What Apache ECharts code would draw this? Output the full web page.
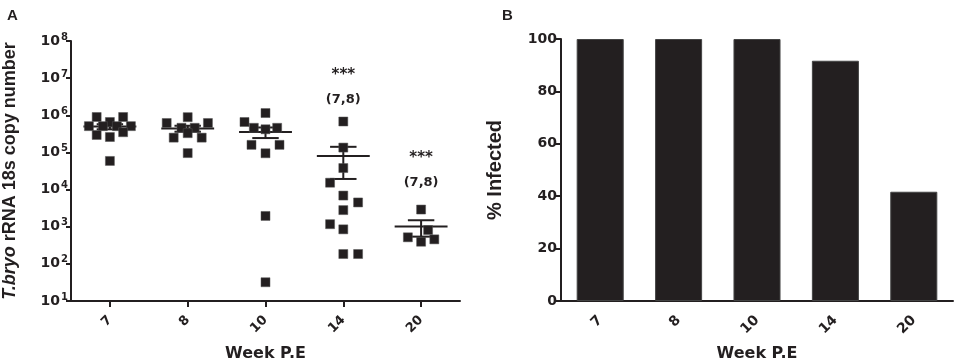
<!DOCTYPE html>
<html>
<head>
<meta charset="utf-8">
<script src="https://cdn.jsdelivr.net/npm/echarts@6/dist/echarts.min.js"></script>
<style>
  html, body { margin: 0; padding: 0; background: #fff; }
  #chart { width: 957px; height: 364px; }
</style>
</head>
<body>
<div id="chart"></div>
<script>
var myChart = echarts.init(document.getElementById('chart'));

// weeks post exposure (categories)
var weeks = ['7', '8', '10', '14', '20'];

// panel A: copy numbers per week
var copies7  = [9.0e5, 9.0e5, 6.6e5, 5.1e5, 5.1e5, 5.1e5, 5.1e5, 2.95e5, 2.6e5, 3.5e5, 5.9e4];
var copies8  = [6.2e5, 8.9e5, 6.2e5, 2.5e5, 2.5e5, 4.6e5, 4.6e5, 3.3e5, 9.6e4];
var copies10 = [1.15e6, 6.6e5, 4.6e5, 4.2e5, 4.6e5, 1.6e5, 1.6e5, 9.5e4, 1950, 32];
var copies14 = [6.8e5, 1.35e5, 3.8e4, 1.53e4, 6.9e3, 4.5e3, 2.8e3, 1170, 850, 184, 184];
var copies20 = [2900, 519, 394, 457, 815];

// horizontal scatter of the points (fraction of a category width)
var jitter7  = [-0.17, 0.17, 0, -0.27, -0.09, 0.09, 0.27, -0.17, 0, 0.17, 0];
var jitter8  = [-0.27, 0, 0.26, -0.18, 0.18, -0.08, 0.09, 0, 0];
var jitter10 = [0, -0.27, -0.15, 0, 0.15, -0.18, 0.18, 0, 0, 0];
var jitter14 = [0, 0, 0, -0.17, 0, 0.19, 0, -0.17, 0, 0, 0.19];
var jitter20 = [0, -0.17, 0, 0.17, 0.09];

// significance notes above weeks 14 and 20
var noteWeeks = [3, 4];
var noteStarsAt = [1.2e7, 7.1e4];
var noteNAt = [2.6e6, 1.5e4];
var noteStars = '***';
var noteN = '(7,8)';

// panel B: % infected
var infected = [100, 100, 100, 91.7, 41.7];

var groups = [copies7, copies8, copies10, copies14, copies20];
var jitters = [jitter7, jitter8, jitter10, jitter14, jitter20];

var points = [];
var stats = [];
groups.forEach(function (vals, i) {
    vals.forEach(function (v, j) {
        points.push([i + jitters[i][j], v]);
    });
    var n = vals.length;
    var mean = vals.reduce(function (a, b) { return a + b; }, 0) / n;
    var ss = vals.reduce(function (a, b) { return a + (b - mean) * (b - mean); }, 0);
    var sem = Math.sqrt(ss / (n - 1)) / Math.sqrt(n);
    stats.push([i, mean, mean - sem, mean + sem]);
});

var notes = noteWeeks.map(function (w, k) {
    return [w, noteStarsAt[k], noteNAt[k]];
});

var ink = '#231f20';
var tickFont = 'DejaVu Sans';

var option = {
    animation: false,
    grid: [
        { left: 71, top: 41, width: 389, height: 260, outerBoundsMode: 'none', containLabel: false },
        { left: 561, top: 39, width: 392, height: 262, outerBoundsMode: 'none', containLabel: false }
    ],
    graphic: [
        { type: 'text', left: 7, top: 8, style: { text: 'A', font: 'bold 15px "Liberation Sans"', fill: ink } },
        { type: 'text', left: 502, top: 8, style: { text: 'B', font: 'bold 15px "Liberation Sans"', fill: ink } }
    ],
    xAxis: [
        {
            type: 'value', gridIndex: 0, min: -0.5, max: 4.5,
            splitLine: { show: false },
            axisLine: { onZero: false, lineStyle: { color: ink, width: 2 } },
            axisTick: { customValues: [0, 1, 2, 3, 4], length: 6, lineStyle: { color: ink, width: 2 } },
            axisLabel: {
                customValues: [0, 1, 2, 3, 4],
                formatter: function (v) { return weeks[Math.round(v)]; },
                rotate: 45, margin: 17, color: ink,
                fontFamily: tickFont, fontWeight: 'bold', fontSize: 13
            },
            name: 'Week P.E', nameLocation: 'middle', nameGap: 45,
            nameTextStyle: { fontFamily: tickFont, fontWeight: 'bold', fontSize: 16, color: ink }
        },
        {
            type: 'category', gridIndex: 1, data: weeks,
            axisLine: { lineStyle: { color: ink, width: 2 } },
            axisTick: { alignWithLabel: true, length: 6, lineStyle: { color: ink, width: 2 } },
            axisLabel: {
                rotate: 45, margin: 17, color: ink,
                fontFamily: tickFont, fontWeight: 'bold', fontSize: 14
            },
            name: 'Week P.E', nameLocation: 'middle', nameGap: 45,
            nameTextStyle: { fontFamily: tickFont, fontWeight: 'bold', fontSize: 16, color: ink }
        }
    ],
    yAxis: [
        {
            type: 'log', logBase: 10, gridIndex: 0, min: 10, max: 1e8, splitNumber: 7,
            splitLine: { show: false },
            axisLine: { show: true, onZero: false, lineStyle: { color: ink, width: 2 } },
            axisTick: { show: true, length: 5, lineStyle: { color: ink, width: 2 } },
            axisLabel: {
                margin: 3, color: ink,
                formatter: function (v) {
                    return '{b|10}{s|' + Math.round(Math.log10(v)) + '}';
                },
                rich: {
                    b: { fontFamily: tickFont, fontWeight: 'bold', fontSize: 14, color: ink },
                    s: { fontFamily: tickFont, fontWeight: 'bold', fontSize: 10, color: ink, padding: [0, 0, 8, 1] }
                }
            },
            name: '{i|T.bryo} rRNA 18s copy number',
            nameLocation: 'middle', nameGap: 52, nameRotate: 90,
            nameTextStyle: {
                fontFamily: 'Liberation Sans', fontWeight: 'bold', fontSize: 18, color: ink,
                rich: {
                    i: { fontFamily: 'Liberation Sans', fontWeight: 'bold', fontStyle: 'italic', fontSize: 18, color: ink }
                }
            }
        },
        {
            type: 'value', gridIndex: 1, min: 0, max: 100, interval: 20,
            splitLine: { show: false },
            axisLine: { show: true, onZero: false, lineStyle: { color: ink, width: 2 } },
            axisTick: { show: true, length: 6, lineStyle: { color: ink, width: 2 } },
            axisLabel: { margin: 4, color: ink, fontFamily: tickFont, fontWeight: 'bold', fontSize: 14 },
            name: '% Infected', nameLocation: 'middle', nameGap: 56, nameRotate: 90,
            nameTextStyle: { fontFamily: 'Liberation Sans', fontWeight: 'bold', fontSize: 20, color: ink }
        }
    ],
    series: [
        {
            type: 'scatter', xAxisIndex: 0, yAxisIndex: 0,
            symbol: 'rect', symbolSize: 9,
            itemStyle: { color: ink, borderColor: '#555', borderWidth: 0.5, opacity: 1 },
            data: points
        },
        {
            // mean with SEM bars
            type: 'custom', xAxisIndex: 0, yAxisIndex: 0,
            encode: { x: 0, y: [1, 2, 3] },
            data: stats,
            renderItem: function (params, api) {
                var x = api.value(0), m = api.value(1), lo = api.value(2), hi = api.value(3);
                var pm = api.coord([x, m]);
                var ph = api.coord([x, hi]);
                var pl = lo > 0 ? api.coord([x, lo]) : api.coord([x, 10]);
                var mx0 = api.coord([x - 0.34, m])[0], mx1 = api.coord([x + 0.34, m])[0];
                var cx0 = api.coord([x - 0.17, m])[0], cx1 = api.coord([x + 0.17, m])[0];
                var st = { stroke: ink, lineWidth: 2 };
                return {
                    type: 'group',
                    children: [
                        { type: 'line', shape: { x1: mx0, y1: pm[1], x2: mx1, y2: pm[1] }, style: st },
                        { type: 'line', shape: { x1: pm[0], y1: ph[1], x2: pm[0], y2: pl[1] }, style: st },
                        { type: 'line', shape: { x1: cx0, y1: ph[1], x2: cx1, y2: ph[1] }, style: st },
                        { type: 'line', shape: { x1: cx0, y1: pl[1], x2: cx1, y2: pl[1] }, style: st }
                    ]
                };
            }
        },
        {
            type: 'custom', xAxisIndex: 0, yAxisIndex: 0,
            encode: { x: 0, y: [1, 2] },
            data: notes,
            renderItem: function (params, api) {
                var ps = api.coord([api.value(0), api.value(1)]);
                var pn = api.coord([api.value(0), api.value(2)]);
                return {
                    type: 'group',
                    children: [
                        { type: 'text', style: { x: ps[0], y: ps[1], text: noteStars, fill: ink,
                            font: 'bold 15px "DejaVu Sans"', align: 'center', verticalAlign: 'middle' } },
                        { type: 'text', style: { x: pn[0], y: pn[1], text: noteN, fill: ink,
                            font: 'bold 13px "DejaVu Sans"', align: 'center', verticalAlign: 'middle' } }
                    ]
                };
            }
        },
        {
            type: 'bar', xAxisIndex: 1, yAxisIndex: 1,
            barWidth: '60%',
            itemStyle: { color: ink, borderColor: '#444', borderWidth: 1 },
            data: infected
        }
    ]
};

myChart.setOption(option);
</script>
</body>
</html>
